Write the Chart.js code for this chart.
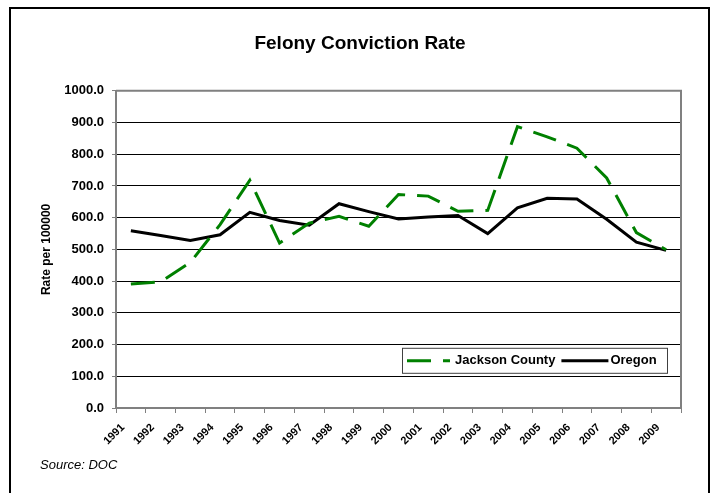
<!DOCTYPE html>
<html>
<head>
<meta charset="utf-8">
<script src="https://cdn.jsdelivr.net/npm/chart.js@4.4.1/dist/chart.umd.min.js"></script>
<style>
  html, body { margin: 0; padding: 0; background: #fff; }
  #wrap { width: 716px; height: 493px; }
</style>
</head>
<body>
<div id="wrap"><canvas id="c" width="716" height="493"></canvas></div>
<script>
const years = ['1991','1992','1993','1994','1995','1996','1997','1998','1999','2000','2001','2002','2003','2004','2005','2006','2007','2008','2009'];
const jacksonCounty = [391, 398, 459, 578, 718, 520, 583, 604, 573, 673, 668, 620, 623, 887, 855, 819, 725, 553, 499];
const oregon = [559, 544, 528, 546, 617, 591, 576, 644, 619, 596, 602, 607, 550, 631, 661, 659, 595, 523, 497];
const seriesNames = ['Jackson County', 'Oregon'];
const chartTitle = 'Felony Conviction Rate';
const yAxisTitle = 'Rate per 100000';
const sourceNote = 'Source: DOC';

const FONT = "'Liberation Sans', Arial, Helvetica, sans-serif";
Chart.defaults.font.family = FONT;
Chart.defaults.color = '#000';

const decor = {
  id: 'decor',
  beforeDraw(chart) {
    const ctx = chart.ctx;
    ctx.save();
    ctx.fillStyle = '#fff';
    ctx.fillRect(0, 0, chart.width, chart.height);
    ctx.restore();
  },
  afterDraw(chart) {
    const ctx = chart.ctx;
    const a = chart.chartArea;
    ctx.save();
    // plot area right/top border
    ctx.strokeStyle = '#808080';
    ctx.lineWidth = 2;
    ctx.beginPath();
    ctx.moveTo(a.left, a.top);
    ctx.lineTo(a.right, a.top);
    ctx.lineTo(a.right, a.bottom);
    ctx.stroke();

    // legend box inside plot
    const bx = a.left + 286, by = a.top + 257, bw = 265, bh = 25;
    ctx.fillStyle = '#fff';
    ctx.fillRect(bx, by, bw, bh);
    ctx.strokeStyle = '#404040';
    ctx.lineWidth = 1;
    ctx.strokeRect(bx + 0.5, by + 0.5, bw, bh);
    ctx.font = 'bold 13px ' + FONT;
    ctx.textBaseline = 'middle';
    ctx.textAlign = 'left';
    const cy = by + bh / 2 + 0.5;
    let x = bx + 5;
    chart.data.datasets.forEach((ds, i) => {
      ctx.save();
      ctx.strokeStyle = ds.borderColor;
      ctx.lineWidth = ds.borderWidth;
      ctx.lineCap = 'butt';
      ctx.setLineDash(ds.borderDash || []);
      ctx.beginPath();
      const len = i === 0 ? 43 : 47;
      ctx.moveTo(x, cy);
      ctx.lineTo(x + len, cy);
      ctx.stroke();
      ctx.restore();
      x += len + (i === 0 ? 5 : 2);
      ctx.fillStyle = '#000';
      ctx.fillText(ds.label, x, cy);
      x += ctx.measureText(ds.label).width + 6;
    });

    // source note
    ctx.font = 'italic 13px ' + FONT;
    ctx.fillStyle = '#000';
    ctx.textBaseline = 'middle';
    ctx.fillText(sourceNote, 40, 465);

    // outer frame
    ctx.strokeStyle = '#000';
    ctx.lineWidth = 2;
    ctx.strokeRect(10, 8, 699, 495);
    ctx.restore();
  }
};

new Chart(document.getElementById('c'), {
  type: 'line',
  data: {
    labels: years,
    datasets: [
      {
        label: seriesNames[0],
        data: jacksonCounty,
        borderColor: '#008000',
        backgroundColor: '#008000',
        borderWidth: 3,
        borderDash: [24, 12],
        borderCapStyle: 'butt',
        pointRadius: 0,
        tension: 0,
        fill: false
      },
      {
        label: seriesNames[1],
        data: oregon,
        borderColor: '#000000',
        backgroundColor: '#000000',
        borderWidth: 3,
        pointRadius: 0,
        tension: 0,
        fill: false
      }
    ]
  },
  options: {
    responsive: false,
    animation: false,
    events: [],
    layout: { padding: { left: 10, right: 6, top: 8, bottom: 0 } },
    plugins: {
      legend: { display: false },
      tooltip: { enabled: false },
      title: {
        display: true,
        text: chartTitle,
        color: '#000',
        font: { size: 19, weight: 'bold' },
        padding: { top: 24, bottom: 36 }
      }
    },
    scales: {
      x: {
        type: 'category',
        offset: true,
        grid: { offset: true, drawOnChartArea: false, drawTicks: true, tickLength: 5, color: '#808080', lineWidth: 1 },
        border: { color: '#808080', width: 2 },
        ticks: {
          autoSkip: false, maxRotation: 45, minRotation: 45,
          padding: 8, labelOffset: -8,
          color: '#000', font: { size: 11, weight: 'bold' }
        },
        afterFit(s) { s.height = 85; }
      },
      y: {
        min: 0, max: 1000,
        ticks: {
          stepSize: 100, padding: 8, color: '#000',
          font: { size: 13, weight: 'bold' },
          callback: v => Number(v).toFixed(1)
        },
        grid: {
          color: c => (c.tick && (c.tick.value === 1000 || c.tick.value === 0)) ? '#808080' : '#000',
          tickColor: '#808080', tickLength: 4, lineWidth: 1
        },
        border: { color: '#808080', width: 2 },
        title: {
          display: true, text: yAxisTitle, color: '#000',
          font: { size: 12, weight: 'bold' },
          padding: { top: 29, bottom: 0 }
        },
        afterFit(s) { s.width = 106; }
      },
      yRight: {
        type: 'linear',
        position: 'right',
        display: true,
        grid: { drawOnChartArea: false, drawTicks: false },
        ticks: { display: false },
        border: { display: true, color: '#808080', width: 2 },
        afterFit(s) { s.width = 29; }
      }
    }
  },
  plugins: [decor]
});
</script>
</body>
</html>
